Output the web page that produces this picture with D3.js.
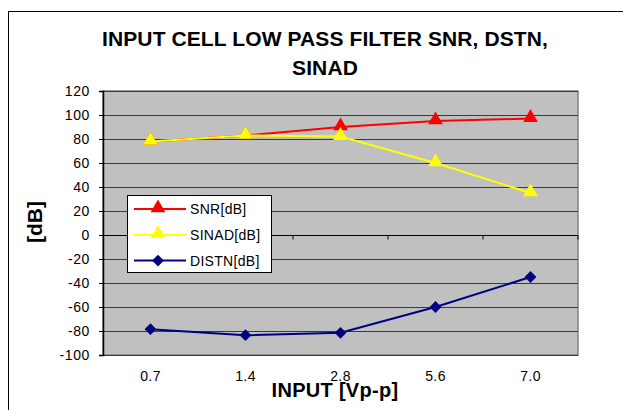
<!DOCTYPE html>
<html><head><meta charset="utf-8">
<script src="https://cdn.jsdelivr.net/npm/d3@7"></script>
<style>body{margin:0;background:#fff}svg{display:block;font-family:"Liberation Sans",Arial,sans-serif}</style>
</head><body>
<script>
const categories = ["0.7","1.4","2.8","5.6","7.0"];
const snr = [78, 83, 90, 95, 97];
const sinad = [78, 83, 82, 60, 35];
const distn = [-78.5, -83.5, -81.5, -60, -35];
const yTicks = [-100,-80,-60,-40,-20,0,20,40,60,80,100,120];
const seriesNames = ["SNR[dB]","SINAD[dB]","DISTN[dB]"];

const W=623,H=410;
const svg=d3.select("body").append("svg").attr("width",W).attr("height",H);
svg.append("rect").attr("x",8.5).attr("y",11.5).attr("width",700).attr("height",500).attr("fill","#fff").attr("stroke","#000");

const L=103,R=578,T=91,B=355;
const x=d3.scaleBand().domain(categories).range([L,R]);
const y=d3.scaleLinear().domain([-100,120]).range([B,T]);

svg.append("rect").attr("x",L).attr("y",T).attr("width",R-L).attr("height",B-T).attr("fill","#C0C0C0").attr("stroke","#808080").attr("stroke-width",1.5);
// gridlines
svg.append("g").selectAll("line").data(yTicks).join("line")
 .attr("x1",L).attr("x2",R).attr("y1",d=>Math.round(y(d))+0.5).attr("y2",d=>Math.round(y(d))+0.5)
 .attr("stroke","#3a3a3a").attr("stroke-width",1);
// y axis
const ya=svg.append("g").attr("transform",`translate(${L},0)`).call(d3.axisLeft(y).tickValues(yTicks).tickFormat(d=>String(d)).tickSize(4).tickPadding(9));
ya.select(".domain").attr("stroke","#000").attr("stroke-width",1.5);
ya.selectAll("text").attr("font-size",14).attr("letter-spacing",0.6).attr("fill","#000").attr("font-family","Liberation Sans, Arial");
// x axis line at zero with ticks between categories
const xa=svg.append("g").attr("transform",`translate(0,${Math.round(y(0))+0.5})`);
xa.append("line").attr("x1",L).attr("x2",R).attr("stroke","#000").attr("stroke-width",1.2);
xa.selectAll("line.t").data(categories.slice(1).concat(["end"])).join("line").attr("class","t")
 .attr("x1",(d,i)=>L+x.step()*(i+1)).attr("x2",(d,i)=>L+x.step()*(i+1)).attr("y1",0).attr("y2",4).attr("stroke","#000");
// x labels at bottom
svg.append("g").selectAll("text").data(categories).join("text")
 .attr("x",d=>x(d)+x.bandwidth()/2).attr("y",381).attr("text-anchor","middle").attr("font-size",14).attr("letter-spacing",0.4).text(d=>d);

const series=[
 {name:seriesNames[0],vals:snr,color:"#FF0000",sym:d3.symbolTriangle,size:95,rot:0,dy:-1},
 {name:seriesNames[1],vals:sinad,color:"#FFFF00",sym:d3.symbolTriangle,size:95,rot:0,dy:-1},
 {name:seriesNames[2],vals:distn,color:"#000080",sym:d3.symbolSquare,size:70,rot:45,dy:0}
];
const line=d3.line().x((d,i)=>x(categories[i])+x.bandwidth()/2).y(d=>y(d));
const drawOrder=[2,0,1];
drawOrder.forEach(k=>{
 const s=series[k];
 svg.append("path").attr("d",line(s.vals)).attr("fill","none").attr("stroke",s.color).attr("stroke-width",2);
 svg.append("g").selectAll("path").data(s.vals).join("path")
  .attr("d",d3.symbol().type(s.sym).size(s.size))
  .attr("transform",(d,i)=>`translate(${x(categories[i])+x.bandwidth()/2},${y(d)+s.dy}) rotate(${s.rot})`)
  .attr("fill",s.color);
});

// legend
const lg=svg.append("g");
lg.append("rect").attr("x",127.5).attr("y",195.5).attr("width",144).attr("height",77).attr("fill","#fff").attr("stroke","#000");
series.forEach((s,i)=>{
 const yy=209+i*25.8;
 lg.append("line").attr("x1",134).attr("x2",186).attr("y1",yy).attr("y2",yy).attr("stroke",s.color).attr("stroke-width",2);
 lg.append("path").attr("d",d3.symbol().type(s.sym).size(s.size)).attr("transform",`translate(158,${yy+s.dy}) rotate(${s.rot})`).attr("fill",s.color);
 lg.append("text").attr("x",190).attr("y",yy+5).attr("font-size",14).attr("letter-spacing",0.3).text(s.name);
});

// titles
svg.append("text").attr("x",325).attr("y",46).attr("text-anchor","middle").attr("font-size",21).attr("font-weight","bold").attr("letter-spacing",0.1).text("INPUT CELL LOW PASS FILTER SNR, DSTN,");
svg.append("text").attr("x",325).attr("y",75).attr("text-anchor","middle").attr("font-size",21).attr("font-weight","bold").attr("letter-spacing",0.1).text("SINAD");
svg.append("text").attr("x",335).attr("y",397).attr("text-anchor","middle").attr("font-size",20).attr("font-weight","bold").attr("letter-spacing",0.3).text("INPUT [Vp-p]");
svg.append("text").attr("transform","translate(42,222) rotate(-90)").attr("text-anchor","middle").attr("font-size",21).attr("font-weight","bold").text("[dB]");
</script>
</body></html>
